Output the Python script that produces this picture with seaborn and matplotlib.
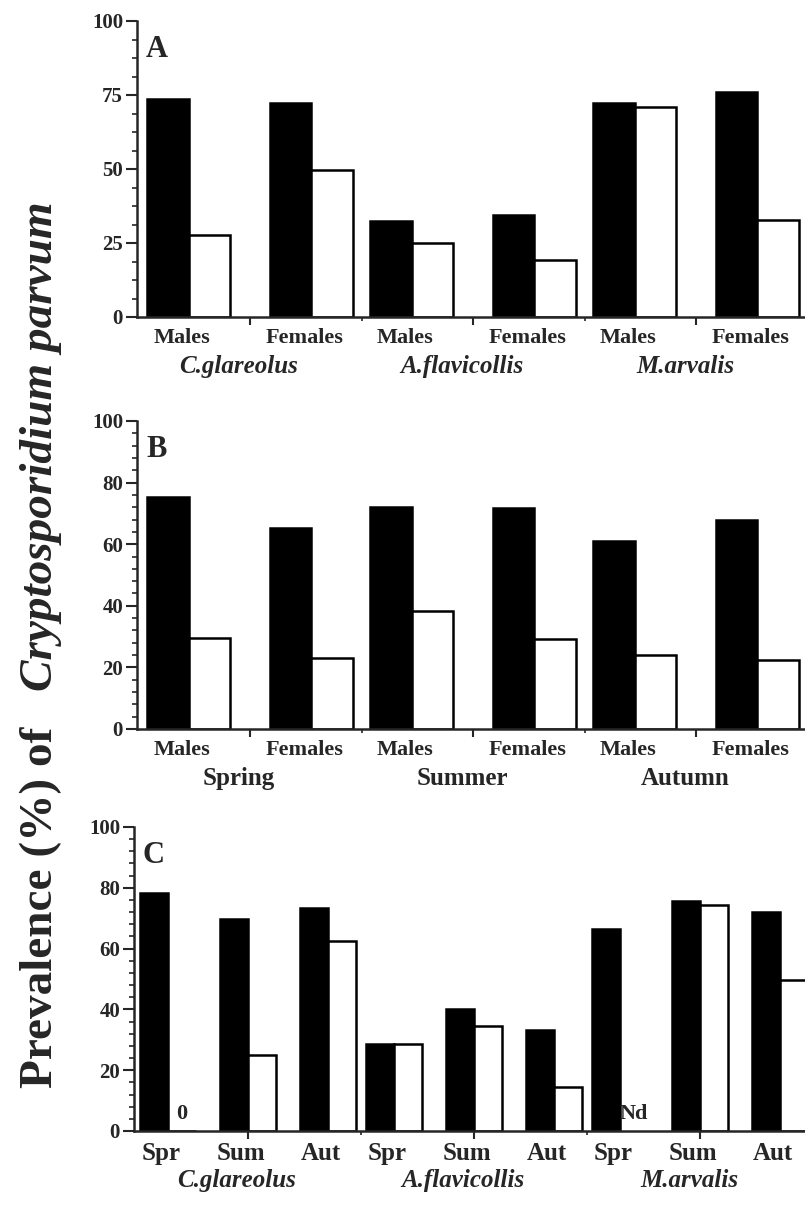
import numpy as np
import pandas as pd
import matplotlib
matplotlib.use("Agg")
import matplotlib.pyplot as plt
import seaborn as sns
from matplotlib.ticker import MultipleLocator

# ---------------- data ----------------
species = ["C.glareolus", "A.flavicollis", "M.arvalis"]
sexes = ["Males", "Females"]
seasons_long = ["Spring", "Summer", "Autumn"]
seasons_short = ["Spr", "Sum", "Aut"]
series_names = ["Series 1", "Series 2"]

# Panel A: by species and sex (black, white)
a_black = [73.5, 72.4, 32.4, 34.3, 72.2, 76.0]
a_white = [27.6, 49.8, 25.1, 19.4, 71.1, 32.8]
# Panel B: by season and sex
b_black = [75.2, 65.3, 72.0, 71.6, 60.9, 67.9]
b_white = [29.4, 23.1, 38.4, 29.1, 24.0, 22.4]
# Panel C: by species and season
c_black = [78.2, 69.6, 73.3, 28.7, 40.0, 33.1, 66.5, 75.8, 72.2]
c_white = [0.0, 25.1, 62.4, 28.5, 34.5, 14.6, np.nan, 74.5, 49.6]
c_notes = ["0", "", "", "", "", "", "Nd", "", ""]

# ---------------- style ----------------
sns.set_style("ticks")
plt.rcParams["font.family"] = ["Liberation Serif", "DejaVu Serif"]
plt.rcParams["font.weight"] = "bold"
plt.rcParams["axes.linewidth"] = 1.8

W, H = 805, 1205
fig = plt.figure(figsize=(W / 100, H / 100), dpi=100)


def make_df(black, white, nsub, offsets):
    rows = []
    for i, (b, w) in enumerate(zip(black, white)):
        g, k = divmod(i, nsub)
        pos = 2 * g + offsets[k]
        rows.append((pos, series_names[0], b))
        rows.append((pos, series_names[1], w))
    df = pd.DataFrame(rows, columns=["pos", "series", "value"])
    return df


def panel(rect_px, black, white, subs, groups, sub_labels, group_labels,
          offsets, pair_w, unit_px, tick0_px, ymajor, yminor, letter,
          group_italic, notes=None):
    left, right, top, bottom = rect_px
    ax = fig.add_axes([left / W, 1 - bottom / H, (right - left) / W,
                       (bottom - top) / H])
    df = make_df(black, white, len(subs), offsets)
    positions = sorted(df["pos"].unique())
    native = np.min(np.diff(positions))
    sns.barplot(data=df.dropna(), x="pos", y="value", hue="series",
                hue_order=series_names, native_scale=True,
                width=pair_w / native, gap=0, dodge=True,
                palette={series_names[0]: "black", series_names[1]: "white"},
                saturation=1, edgecolor="black", linewidth=1.8,
                errorbar=None, legend=False, ax=ax)
    ax.set_xlim((left - tick0_px) / unit_px, (right - tick0_px) / unit_px)
    ax.set_ylim(0, 100)
    ax.set_xlabel("")
    ax.set_ylabel("")
    sns.despine(ax=ax)
    for s in ("left", "bottom"):
        ax.spines[s].set_linewidth(1.8)
    ax.yaxis.set_major_locator(MultipleLocator(ymajor))
    ax.yaxis.set_minor_locator(MultipleLocator(yminor))
    ax.set_xticks([0, 2, 4])
    ax.set_xticklabels([])
    ax.set_xticks([1, 3], minor=True)
    ax.tick_params(axis="y", which="major", direction="out", length=8,
                   width=1.5, pad=2, labelsize=15)
    ax.tick_params(axis="y", which="minor", direction="out", length=3.5,
                   width=1.2)
    ax.tick_params(axis="x", which="major", direction="out", length=6,
                   width=1.5)
    ax.tick_params(axis="x", which="minor", direction="out", length=3,
                   width=1.2)
    for lab in ax.get_yticklabels():
        lab.set_fontweight("bold")

    # category labels
    n = len(subs)
    for i in range(len(black)):
        g, k = divmod(i, n)
        pos = 2 * g + offsets[k]
        ax.annotate(sub_labels[k], xy=(pos, 0),
                    xycoords=("data", "axes fraction"),
                    xytext=(-7, -11), textcoords="offset pixels",
                    ha="center", va="top", fontsize=sub_fs,
                    fontweight="bold")
        if notes is not None and notes[i]:
            ax.annotate(notes[i], xy=(pos + pair_w / 4, 0),
                        xycoords="data", xytext=(0, 7),
                        textcoords="offset pixels", ha="center",
                        va="bottom", fontsize=16, fontweight="bold")
    for g, gl in enumerate(group_labels):
        ax.annotate(gl, xy=(2 * g, 0), xycoords=("data", "axes fraction"),
                    xytext=(-11, -38), textcoords="offset pixels",
                    ha="center", va="top", fontsize=18, fontweight="bold",
                    style="italic" if group_italic else "normal")
    ax.annotate(letter, xy=(0, 1), xycoords="axes fraction",
                xytext=(9, -14), textcoords="offset pixels", ha="left",
                va="top", fontsize=22, fontweight="bold")
    return ax


sub_fs = 16
panel((137, 820, 21, 317), a_black, a_white, sexes, species, sexes, species,
      [-0.55, 0.55], 0.744, 111.5, 250, 25, 6.25, "A", True)
panel((137, 820, 421, 729), b_black, b_white, sexes, seasons_long, sexes,
      seasons_long, [-0.55, 0.55], 0.744, 111.5, 250, 20, 4, "B", False)
sub_fs = 18
panel((134, 820, 827, 1131), c_black, c_white, seasons_short, species,
      seasons_short, species, [-0.708, 0.0, 0.708], 0.487, 113, 248, 20, 4,
      "C", True, notes=c_notes)

fig.text(41 / W, 1 - 907 / H, "Prevalence (%) of", rotation=90,
         ha="center", va="center", fontsize=34, fontweight="bold")
fig.text(41 / W, 1 - 446 / H, "Cryptosporidium parvum", rotation=90,
         ha="center", va="center", fontsize=34, fontweight="bold",
         style="italic")

fig.savefig("out.png", dpi=100)
